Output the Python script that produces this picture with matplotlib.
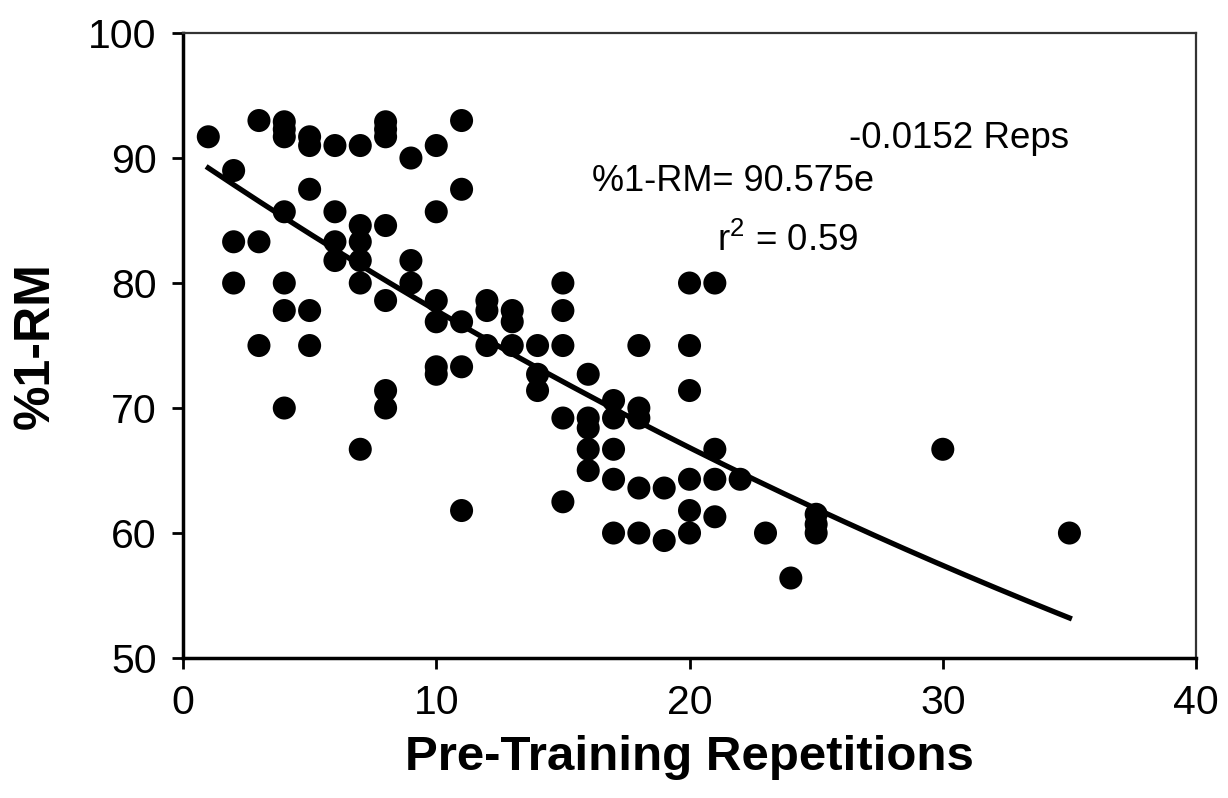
import matplotlib
matplotlib.use("Agg")
import matplotlib.pyplot as plt
import numpy as np

plt.rcParams["font.family"] = ["Liberation Sans", "DejaVu Sans"]
plt.rcParams["mathtext.fontset"] = "custom"
plt.rcParams["mathtext.rm"] = "Liberation Sans"
plt.rcParams["mathtext.it"] = "Liberation Sans"

# ---------------------------------------------------------------------------
# Data
# ---------------------------------------------------------------------------

reps = [
    1,
    2, 2, 2,
    3, 3, 3,
    4, 4, 4, 4, 4, 4, 4,
    5, 5, 5, 5, 5,
    6, 6, 6, 6,
    7, 7, 7, 7, 7, 7,
    8, 8, 8, 8, 8, 8, 8,
    9, 9, 9,
    10, 10, 10, 10, 10, 10,
    11, 11, 11, 11, 11,
    12, 12, 12,
    13, 13, 13,
    14, 14, 14,
    15, 15, 15, 15, 15,
    16, 16, 16, 16, 16,
    17, 17, 17, 17, 17,
    18, 18, 18, 18, 18,
    19, 19,
    20, 20, 20, 20, 20, 20,
    21, 21, 21, 21,
    22,
    23,
    24,
    25, 25, 25,
    30,
    35,
]

pct_1rm = [
    91.7,
    89.0, 83.3, 80.0,
    93.0, 83.3, 75.0,
    92.9, 92.3, 91.7, 85.7, 80.0, 77.8, 70.0,
    91.7, 91.0, 87.5, 77.8, 75.0,
    91.0, 85.7, 83.3, 81.8,
    91.0, 84.6, 83.3, 81.8, 80.0, 66.7,
    92.9, 92.3, 91.7, 84.6, 78.6, 71.4, 70.0,
    90.0, 81.8, 80.0,
    91.0, 85.7, 78.6, 76.9, 73.3, 72.7,
    93.0, 87.5, 76.9, 73.3, 61.8,
    78.6, 77.8, 75.0,
    77.8, 76.9, 75.0,
    75.0, 72.7, 71.4,
    80.0, 77.8, 75.0, 69.2, 62.5,
    72.7, 69.2, 68.4, 66.7, 65.0,
    70.6, 69.2, 66.7, 64.3, 60.0,
    75.0, 70.0, 69.2, 63.6, 60.0,
    63.6, 59.4,
    80.0, 75.0, 71.4, 64.3, 61.8, 60.0,
    80.0, 66.7, 64.3, 61.3,
    64.3,
    60.0,
    56.4,
    61.5, 60.7, 60.0,
    66.7,
    60.0,
]

# exponential fit reported on the figure
fit_a = 90.575
fit_b = -0.0152
fit_range = (1, 35)

x_ticks = [0, 10, 20, 30, 40]
y_ticks = [50, 60, 70, 80, 90, 100]

# ---------------------------------------------------------------------------
# Plot
# ---------------------------------------------------------------------------

fig = plt.figure(figsize=(12.28, 7.98), dpi=100)
ax = fig.add_axes([0.149, 0.1754, 0.825, 0.7832])

ax.scatter(reps, pct_1rm, s=275, color="black", edgecolors="none", zorder=3)

xs = np.linspace(fit_range[0], fit_range[1], 200)
ax.plot(xs, fit_a * np.exp(fit_b * xs), color="black", linewidth=3.8, zorder=2)

ax.set_xlim(0, 40)
ax.set_ylim(50, 100)
ax.set_xticks(x_ticks)
ax.set_yticks(y_ticks)
ax.tick_params(axis="both", direction="out", length=8, width=2, labelsize=29.5,
               pad=11, top=False, right=False)

for side in ["left", "bottom"]:
    ax.spines[side].set_linewidth(2.5)
for side in ["top", "right"]:
    ax.spines[side].set_linewidth(1.6)
    ax.spines[side].set_color("#333333")

ax.set_xlabel("Pre-Training Repetitions", fontsize=35.5, fontweight="bold", labelpad=9)
ax.set_ylabel("%1-RM", fontsize=36, fontweight="bold", labelpad=21)

ax.text(26.3, 91.6, "-0.0152 Reps", fontsize=26.5, ha="left", va="center")
ax.text(16.15, 88.1, "%1-RM= 90.575e", fontsize=26, ha="left", va="center")
ax.text(21.1, 83.4, r"r$^{2}$ = 0.59", fontsize=26.5, ha="left", va="center")

fig.savefig("out.png", dpi=100)
